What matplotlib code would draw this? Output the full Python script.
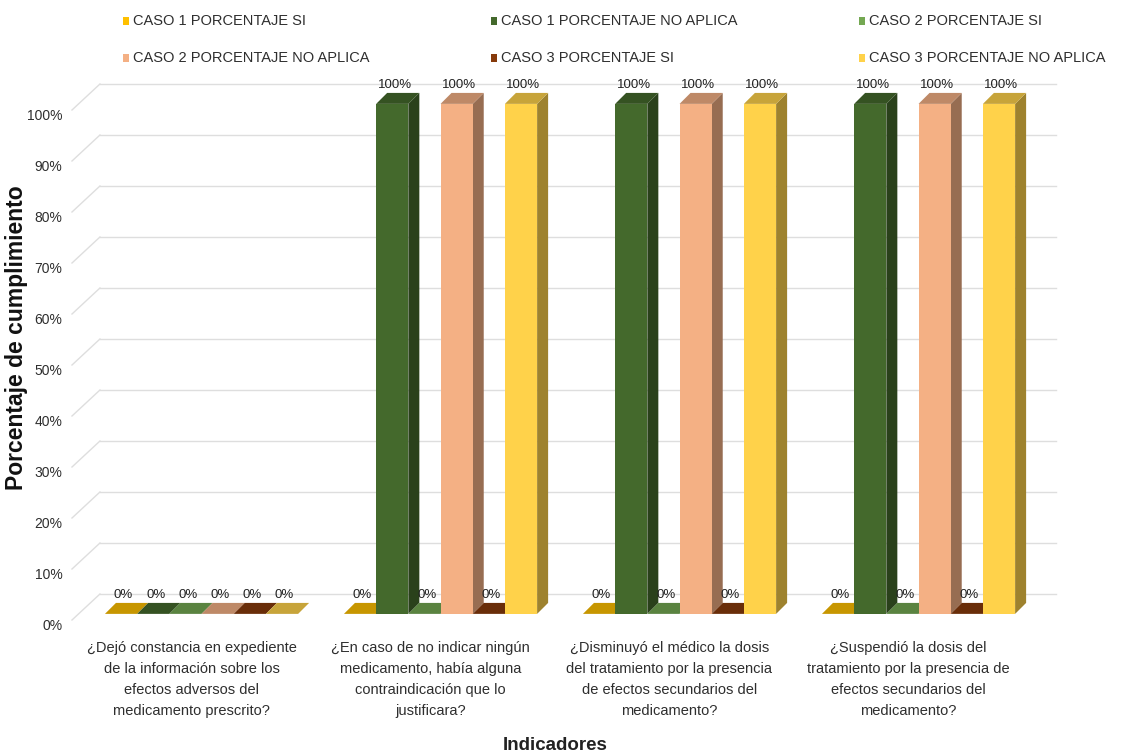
import numpy as np
import matplotlib
matplotlib.use("Agg")
import matplotlib.pyplot as plt
from matplotlib.patches import Polygon, Rectangle
from matplotlib.colors import to_rgb
from matplotlib.transforms import ScaledTranslation

# Datos por indicador
indicadores = [
    "¿Dejó constancia en expediente\nde la información sobre los\nefectos adversos del\nmedicamento prescrito?",
    "¿En caso de no indicar ningún\nmedicamento, había alguna\ncontraindicación que lo\njustificara?",
    "¿Disminuyó el médico la dosis\ndel tratamiento por la presencia\nde efectos secundarios del\nmedicamento?",
    "¿Suspendió la dosis del\ntratamiento por la presencia de\nefectos secundarios del\nmedicamento?",
]
series = [
    "CASO 1 PORCENTAJE SI",
    "CASO 1 PORCENTAJE NO APLICA",
    "CASO 2 PORCENTAJE SI",
    "CASO 2 PORCENTAJE NO APLICA",
    "CASO 3 PORCENTAJE SI",
    "CASO 3 PORCENTAJE NO APLICA",
]
caso1_si = [0, 0, 0, 0]
caso1_na = [0, 100, 100, 100]
caso2_si = [0, 0, 0, 0]
caso2_na = [0, 100, 100, 100]
caso3_si = [0, 0, 0, 0]
caso3_na = [0, 100, 100, 100]
valores = [caso1_si, caso1_na, caso2_si, caso2_na, caso3_si, caso3_na]

colores = ["#FFC000", "#44692C", "#74A852", "#F4B084", "#863A0B", "#FFD24A"]

plt.rcParams["font.family"] = ["Liberation Sans", "DejaVu Sans"]
GRIS = "#2E2E2E"

W, H = 1148, 755
fig = plt.figure(figsize=(W / 100, H / 100), dpi=100)
# ejes: plano frontal de las paredes
ax = fig.add_axes([72 / W, (H - 620) / H, 956 / W, 510 / H])
ax.set_xlim(-0.5, 3.5)
ax.set_ylim(0, 100)
for s in ax.spines.values():
    s.set_visible(False)

# profundidad de las paredes y de las barras (en unidades de datos)
DXW, DYW = 0.117, 5.1
BAR_DX, BAR_DY = 0.042, 1.2
DDX, DDY = 0.046, 2.15
ancho = 0.1347

# lineas de division en pared trasera y lateral
ticks = np.arange(0, 101, 10)
for t in ticks:
    ax.plot([-0.5 + DXW, 3.5 + DXW], [t + DYW, t + DYW], color="#DEDEDE", lw=1, zorder=1, clip_on=False)
    ax.plot([-0.5, -0.5 + DXW], [t, t + DYW], color="#DEDEDE", lw=1, zorder=1, clip_on=False)


def oscurecer(c, f):
    r, g, b = to_rgb(c)
    return (r * f, g * f, b * f)


for i, (vals, col) in enumerate(zip(valores, colores)):
    xs = np.arange(len(indicadores)) + BAR_DX + (i - 2.5) * ancho
    z = 3 + i * 0.1
    ax.bar(xs, vals, width=ancho, bottom=BAR_DY, color=col, zorder=z + 0.02, clip_on=False, linewidth=0)
    for x, v in zip(xs, vals):
        x0, x1 = x - ancho / 2, x + ancho / 2
        top = BAR_DY + v
        ax.add_patch(Polygon([(x1, BAR_DY), (x1 + DDX, BAR_DY + DDY), (x1 + DDX, top + DDY), (x1, top)],
                             closed=True, fc=oscurecer(col, 0.62), ec="none", zorder=z, clip_on=False))
        ax.add_patch(Polygon([(x0, top), (x1, top), (x1 + DDX, top + DDY), (x0 + DDX, top + DDY)],
                             closed=True, fc=oscurecer(col, 0.78), ec="none", zorder=z + 0.01, clip_on=False))
        ax.text(x + 0.01, top + DDY + 0.3, f"{v:.0f}%", ha="center", va="bottom",
                fontsize=9.5, color="#222222", zorder=10, clip_on=False)

ax.set_yticks(ticks, [f"{t}%" for t in ticks])
ax.set_xticks(range(len(indicadores)), indicadores)
ax.tick_params(axis="y", length=0, pad=7, labelsize=10, labelcolor=GRIS)
ax.tick_params(axis="x", length=0, pad=15, labelsize=10.5, labelcolor=GRIS)
desplazar = ScaledTranslation(0, -3 / 72, fig.dpi_scale_trans)
for lbl in ax.get_yticklabels():
    lbl.set_transform(lbl.get_transform() + desplazar)
for lbl in ax.get_xticklabels():
    lbl.set_linespacing(1.65)

fig.text(17 / W, 1 - 338 / H, "Porcentaje de cumplimiento", rotation=90, ha="center", va="center",
         fontsize=16.5, fontweight="bold", color="#111111")
fig.text(555 / W, 1 - 745 / H, "Indicadores", ha="center", va="center",
         fontsize=13.5, fontweight="bold", color="#222222")

# leyenda en dos filas y tres columnas
for k, (nombre, col) in enumerate(zip(series, colores)):
    fila, colm = divmod(k, 3)
    mx = 126 + colm * 368
    my = 21 + fila * 37
    fig.add_artist(Rectangle(((mx - 3) / W, 1 - (my + 4) / H), 6 / W, 8 / H,
                             transform=fig.transFigure, fc=col, ec="none"))
    fig.text((mx + 7) / W, 1 - my / H, nombre, ha="left", va="center", fontsize=10.5, color=GRIS)

fig.savefig("out.png", dpi=100)
